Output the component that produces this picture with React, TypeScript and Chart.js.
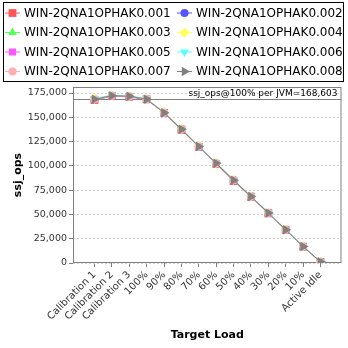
import { useEffect, useRef } from 'react';
import { Chart, registerables } from 'chart.js';

Chart.register(...registerables);

const categories = ['Calibration 1', 'Calibration 2', 'Calibration 3', '100%', '90%', '80%', '70%', '60%', '50%', '40%', '30%', '20%', '10%', 'Active Idle'];
const seriesNames = ['WIN-2QNA1OPHAK0.001', 'WIN-2QNA1OPHAK0.002', 'WIN-2QNA1OPHAK0.003', 'WIN-2QNA1OPHAK0.004', 'WIN-2QNA1OPHAK0.005', 'WIN-2QNA1OPHAK0.006', 'WIN-2QNA1OPHAK0.007', 'WIN-2QNA1OPHAK0.008'];

const s001 = [167600, 171800, 171000, 168400, 154500, 137200, 119500, 102000, 84400, 68200, 51100, 34000, 16800, 1100];
const s002 = [168600, 172500, 171700, 168700, 155000, 137900, 120000, 102700, 85400, 68600, 51500, 34400, 17100, 1200];
const s003 = [168200, 172000, 171300, 168500, 154700, 137500, 119700, 102400, 85100, 68300, 51300, 34200, 16900, 1000];
const s004 = [169000, 172600, 171900, 168900, 155600, 138300, 120400, 103000, 85700, 68800, 51700, 34600, 17200, 1200];
const s005 = [168300, 172100, 171400, 168600, 154600, 137600, 119800, 102500, 85200, 68400, 51400, 34300, 17000, 1100];
const s006 = [169300, 172900, 172100, 169000, 155300, 138100, 120300, 103100, 85900, 69000, 51900, 34800, 17300, 1300];
const s007 = [168400, 172200, 171500, 168600, 154800, 137700, 119900, 102600, 85300, 68500, 51400, 34300, 17000, 1100];
const s008 = [168500, 172300, 171600, 168603, 154800, 137700, 119900, 102600, 85300, 68500, 51400, 34300, 17000, 1200];
const seriesValues = [s001, s002, s003, s004, s005, s006, s007, s008];

const yTicks = [0, 25000, 50000, 75000, 100000, 125000, 150000, 175000];
const refValue = 168603;
const refLabel = 'ssj_ops@100% per JVM=168,603';
const xTitle = 'Target Load';
const yTitle = 'ssj_ops';

const colors = ['#ff5555', '#5555ff', '#55ff55', '#ffff55', '#ff55ff', '#55ffff', '#ffafaf', '#808080'];
const markers = [
  { style: 'rect', rot: 0, r: 5.5 },
  { style: 'circle', rot: 0, r: 4 },
  { style: 'triangle', rot: 0, r: 5 },
  { style: 'rectRot', rot: 0, r: 5 },
  { style: 'rect', rot: 0, r: 5 },
  { style: 'triangle', rot: 180, r: 5 },
  { style: 'circle', rot: 0, r: 4 },
  { style: 'triangle', rot: 90, r: 5.5 },
];

function fmt(v: number) {
  return String(Math.round(v)).replace(/\B(?=(\d{3})+(?!\d))/g, ',');
}

function drawMarker(ctx: CanvasRenderingContext2D, style: string, rot: number, r: number, x: number, y: number, color: string) {
  ctx.save();
  ctx.fillStyle = color;
  ctx.beginPath();
  let rad = (rot * Math.PI) / 180;
  if (style === 'rect') {
    const s = Math.SQRT1_2 * r;
    ctx.rect(x - s, y - s, 2 * s, 2 * s);
  } else if (style === 'circle') {
    ctx.arc(x, y, r, 0, Math.PI * 2);
  } else if (style === 'triangle') {
    ctx.moveTo(x + Math.sin(rad) * r, y - Math.cos(rad) * r);
    rad += (2 * Math.PI) / 3;
    ctx.lineTo(x + Math.sin(rad) * r, y - Math.cos(rad) * r);
    rad += (2 * Math.PI) / 3;
    ctx.lineTo(x + Math.sin(rad) * r, y - Math.cos(rad) * r);
    ctx.closePath();
  } else if (style === 'rectRot') {
    ctx.moveTo(x, y - r);
    ctx.lineTo(x + r, y);
    ctx.lineTo(x, y + r);
    ctx.lineTo(x - r, y);
    ctx.closePath();
  }
  ctx.fill();
  ctx.restore();
}

const decoPlugin = {
  id: 'deco',
  beforeDatasetsDraw(chart: any) {
    const { ctx, chartArea: a } = chart;
    const y = Math.round(chart.scales.y.getPixelForValue(refValue)) + 0.5;
    ctx.save();
    ctx.strokeStyle = '#808080';
    ctx.lineWidth = 1;
    ctx.strokeRect(a.left + 0.5, a.top + 0.5, a.right - a.left - 1, a.bottom - a.top - 1);
    ctx.beginPath();
    ctx.moveTo(a.left, y);
    ctx.lineTo(a.right, y);
    ctx.stroke();
    ctx.font = '9px "DejaVu Sans"';
    ctx.fillStyle = '#000';
    ctx.textAlign = 'right';
    ctx.textBaseline = 'alphabetic';
    ctx.fillText(refLabel, a.right - 4, y - 4);
    ctx.restore();
  },
  afterDraw(chart: any) {
    const { ctx, chartArea: a } = chart;
    ctx.save();
    ctx.strokeStyle = '#000';
    ctx.lineWidth = 1;
    ctx.strokeRect(3.5, 2.5, 340, 79);
    ctx.font = '12px "DejaVu Sans"';
    ctx.textBaseline = 'middle';
    ctx.textAlign = 'left';
    seriesNames.forEach((name, i) => {
      const col = i % 2;
      const row = Math.floor(i / 2);
      const y = 13 + row * 19.5;
      const x0 = col === 0 ? 5 : 177;
      ctx.strokeStyle = colors[i];
      ctx.beginPath();
      ctx.moveTo(x0, y);
      ctx.lineTo(x0 + 15, y);
      ctx.stroke();
      const m = markers[i];
      drawMarker(ctx, m.style, m.rot, m.r, x0 + 7.5, y, colors[i]);
      ctx.fillStyle = '#000';
      ctx.fillText(name, x0 + 19, y + 0.5);
    });
    ctx.font = 'bold 11px "DejaVu Sans"';
    ctx.fillStyle = '#000';
    ctx.textAlign = 'center';
    ctx.textBaseline = 'middle';
    ctx.fillText(xTitle, (a.left + a.right) / 2, 335);
    ctx.translate(18, (a.top + a.bottom) / 2);
    ctx.rotate(-Math.PI / 2);
    ctx.fillText(yTitle, 0, 0);
    ctx.restore();
  },
};

export default function App() {
  const ref = useRef<HTMLCanvasElement>(null);
  useEffect(() => {
    if (!ref.current) return;
    const chart = new Chart(ref.current, {
      type: 'line',
      data: {
        datasets: seriesValues.map((vals, i) => ({
          label: seriesNames[i],
          data: vals.map((v, j) => ({ x: j, y: v })),
          borderColor: colors[i],
          backgroundColor: colors[i],
          borderWidth: 1,
          pointStyle: markers[i].style as any,
          pointRotation: markers[i].rot,
          pointRadius: markers[i].r,
          pointBorderWidth: 0,
          pointBackgroundColor: colors[i],
          pointBorderColor: colors[i],
          tension: 0,
          order: 7 - i,
        })),
      },
      options: {
        animation: false,
        responsive: false,
        devicePixelRatio: 1,
        layout: { padding: { left: 0, top: 87, right: 6.5, bottom: 0 } },
        plugins: { legend: { display: false }, tooltip: { enabled: false } },
        scales: {
          x: {
            type: 'linear',
            min: -1.237,
            max: 14.21,
            afterBuildTicks: (s: any) => {
              s.ticks = categories.map((_, i) => ({ value: i }));
            },
            afterFit: (s: any) => {
              s.height = 85;
            },
            grid: { drawOnChartArea: false, drawTicks: true, tickLength: 4, tickColor: '#808080' },
            border: { display: false },
            ticks: {
              autoSkip: false,
              minRotation: 45,
              maxRotation: 45,
              padding: 2,
              color: '#333',
              font: { family: '"DejaVu Sans"', size: 10 },
              callback: (v: any) => categories[v] ?? '',
            },
          },
          y: {
            type: 'linear',
            min: 0,
            max: 181200,
            afterBuildTicks: (s: any) => {
              s.ticks = yTicks.map((v) => ({ value: v }));
            },
            afterFit: (s: any) => {
              s.width = 73;
            },
            grid: { color: '#d0d0d0', lineWidth: 1, drawTicks: true, tickLength: 4, tickColor: '#808080', tickBorderDash: [] },
            border: { display: false, dash: [2, 2] },
            ticks: {
              padding: 2,
              color: '#333',
              font: { family: '"DejaVu Sans"', size: 9.5 },
              callback: (v: any) => fmt(Number(v)),
            },
          },
        },
      },
      plugins: [decoPlugin],
    });
    return () => chart.destroy();
  }, []);
  return (
    <div style={{ position: 'fixed', left: 0, top: 0, width: 348, height: 348, background: '#fff' }}>
      <canvas ref={ref} width={348} height={348} style={{ display: 'block' }} />
    </div>
  );
}
